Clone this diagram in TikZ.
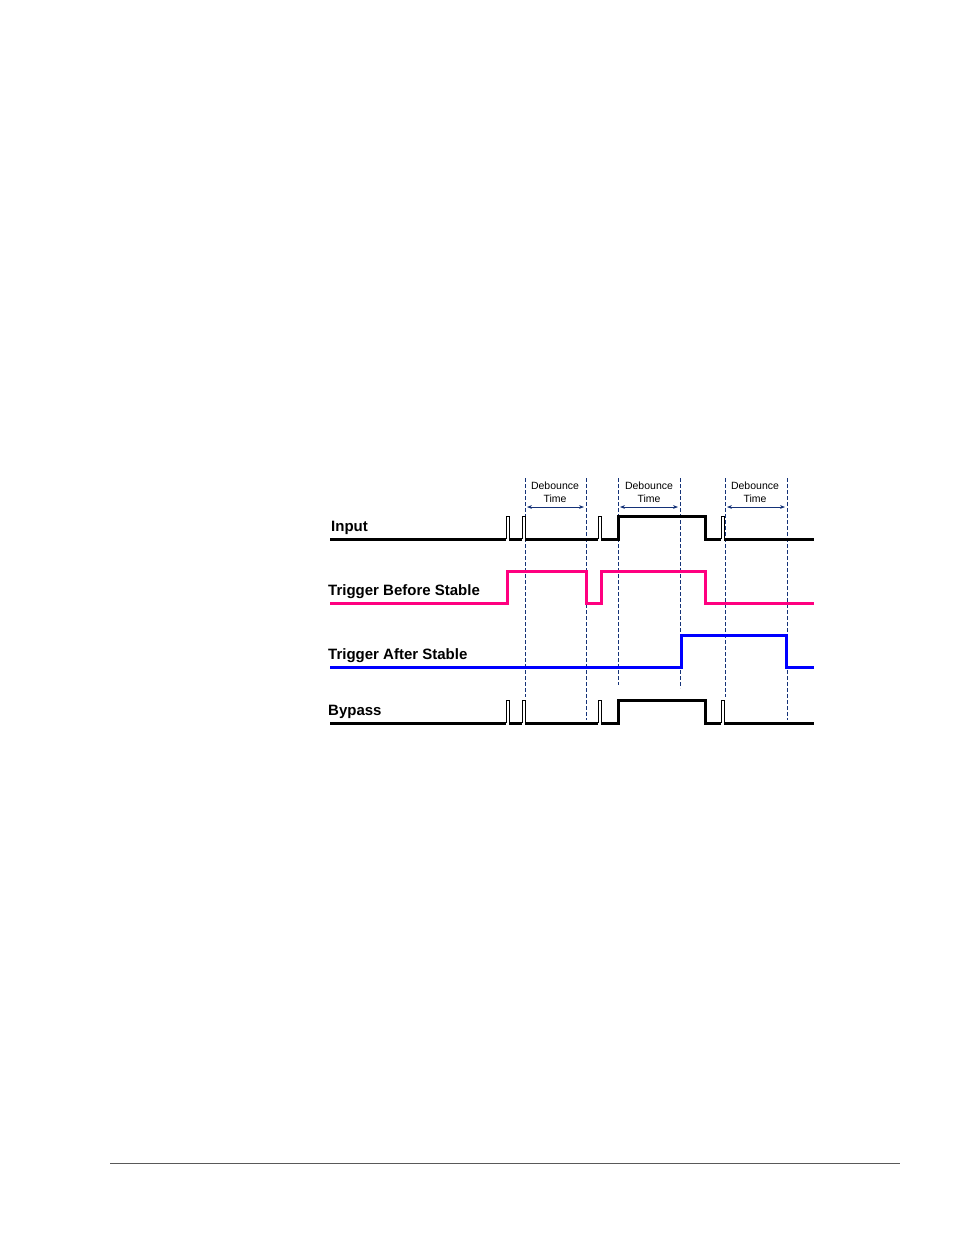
\documentclass[tikz,border=0pt]{standalone}
\usepackage{fontspec}
\setmainfont{Liberation Sans}
\usetikzlibrary{arrows.meta}
\definecolor{pinkc}{RGB}{255,0,128}
\definecolor{dashc}{RGB}{20,50,120}
\begin{document}
\begin{tikzpicture}[x=1pt,y=-1pt,
  sig/.style={line width=3pt},
  pul/.style={line width=1pt},
  dl/.style={dashc,line width=0.7pt,dash pattern=on 4pt off 2pt},
  lab/.style={anchor=south west,font=\fontsize{15}{17}\selectfont\bfseries,inner sep=0pt},
  dlab/.style={font=\fontsize{10.5}{12}\selectfont,align=center,inner sep=0pt}]
\useasboundingbox (0,0) rectangle (954,1235);
% dashed lines
\foreach \x/\b in {525/697,586/720,618/685,680/688,725/697,787/720}
  \draw[dl] (\x,478) -- (\x,\b);
% arrows
\foreach \a/\c/\m/\n in {527/584/555/t1,620/678/649/t2,727/785/755/t3}{
  \draw[dashc,line width=0.7pt,{Stealth[length=5pt]}-{Stealth[length=5pt]}] (\a,507) -- (\c,507);
  \node[dlab] (\n) at (\m,492) {Debounce\\[1pt]Time};}
% Input
\node[lab] (lin) at (331,535) {Input};
\draw[sig] (330,539) -- (506,539);
\draw[pul] (506,539) -- (506,516) -- (509,516) -- (509,539);
\draw[sig] (509,539) -- (522,539);
\draw[pul] (522,539) -- (522,516) -- (525,516) -- (525,539);
\draw[sig] (525,539) -- (598,539);
\draw[pul] (598,539) -- (598,516) -- (601,516) -- (601,539);
\draw[sig] (601,539) -- (618,539) -- (618,516) -- (705,516) -- (705,539) -- (721,539);
\draw[pul] (721,539) -- (721,516) -- (724,516) -- (724,539);
\draw[sig] (724,539) -- (814,539);
% Trigger before stable
\node[lab] (ltb) at (328,599) {Trigger Before Stable};
\draw[sig,pinkc] (330,603) -- (507,603) -- (507,571) -- (586,571) -- (586,603) -- (601,603) -- (601,571) -- (705,571) -- (705,603) -- (814,603);
% Trigger after stable
\node[lab] (lta) at (328,663) {Trigger After Stable};
\draw[sig,blue] (330,667) -- (681,667) -- (681,635) -- (786,635) -- (786,667) -- (814,667);
% Bypass
\node[lab] (lby) at (328,719) {Bypass};
\draw[sig] (330,723) -- (506,723);
\draw[pul] (506,723) -- (506,700) -- (509,700) -- (509,723);
\draw[sig] (509,723) -- (522,723);
\draw[pul] (522,723) -- (522,700) -- (525,700) -- (525,723);
\draw[sig] (525,723) -- (598,723);
\draw[pul] (598,723) -- (598,700) -- (601,700) -- (601,723);
\draw[sig] (601,723) -- (618,723) -- (618,700) -- (705,700) -- (705,723) -- (721,723);
\draw[pul] (721,723) -- (721,700) -- (724,700) -- (724,723);
\draw[sig] (724,723) -- (814,723);
% bottom rule
\draw[gray!70!black,line width=0.8pt] (110,1163) -- (900,1163);
\end{tikzpicture}
\end{document}
